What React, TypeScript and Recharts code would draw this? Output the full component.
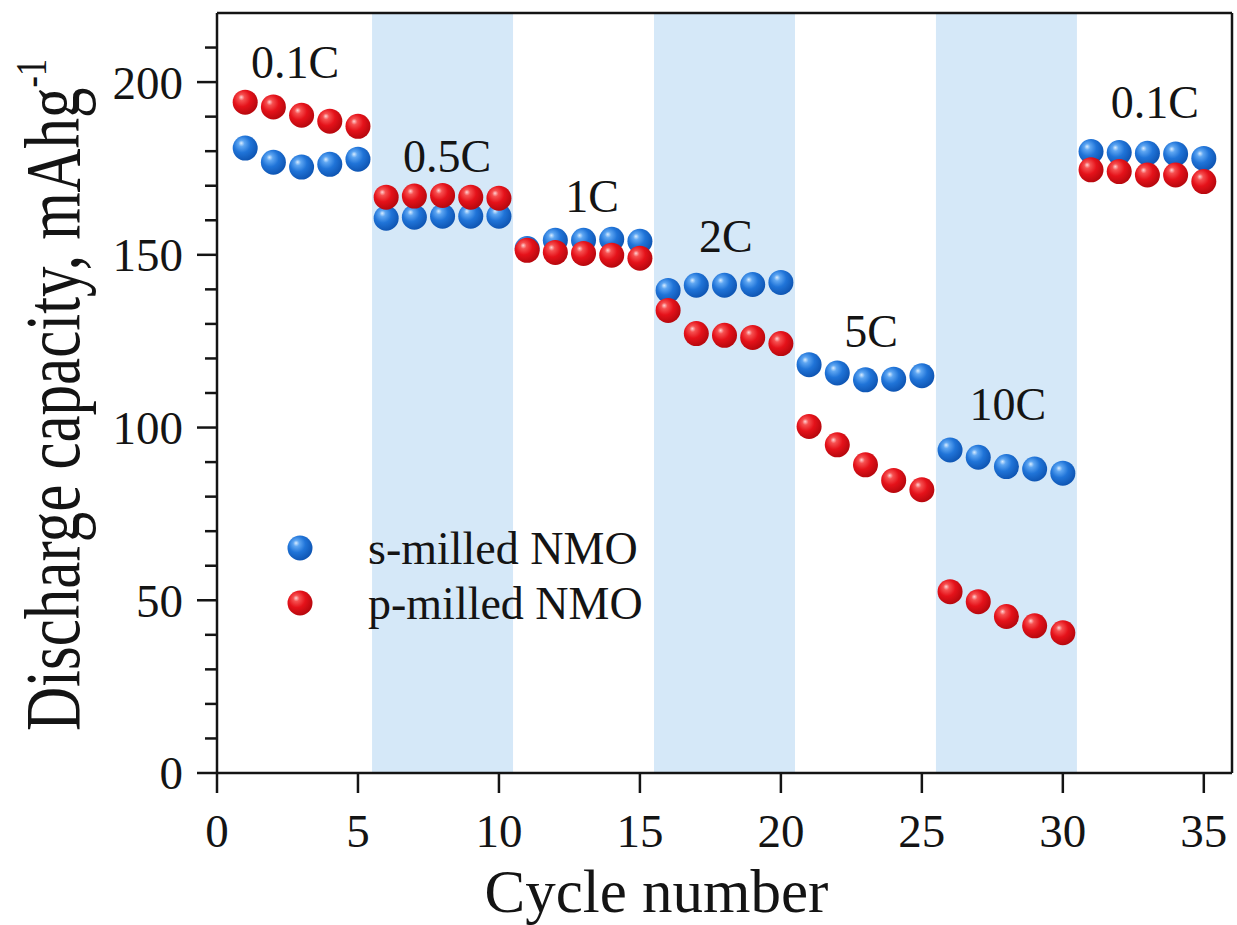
import React from 'react';
import {
  ScatterChart,
  Scatter,
  XAxis,
  YAxis,
  ReferenceArea,
  ReferenceLine,
  ReferenceDot,
  Legend,
} from 'recharts';

// Cycle index and discharge capacities (mAh/g)
const cycles = [
  1, 2, 3, 4, 5, 6, 7, 8, 9, 10, 11, 12, 13, 14, 15, 16, 17, 18, 19, 20,
  21, 22, 23, 24, 25, 26, 27, 28, 29, 30, 31, 32, 33, 34, 35,
];

const sMilled = [
  180.9, 176.8, 175.4, 176.2, 177.7,
  160.6, 160.9, 161.2, 161.2, 161.2,
  151.8, 154.2, 154.2, 154.5, 153.9,
  139.7, 141.2, 141.2, 141.4, 142.0,
  118.2, 115.8, 113.8, 114.0, 115.0,
  93.5, 91.4, 88.7, 88.0, 86.8,
  179.9, 179.6, 179.4, 179.2, 177.9,
];

const pMilled = [
  194.2, 192.8, 190.4, 188.7, 187.2,
  166.7, 167.0, 167.2, 166.7, 166.4,
  151.3, 150.7, 150.4, 149.9, 149.0,
  133.9, 127.2, 126.7, 126.1, 124.3,
  100.3, 95.0, 89.2, 84.7, 82.0,
  52.5, 49.6, 45.3, 42.6, 40.6,
  174.6, 174.1, 173.1, 173.1, 171.2,
];

const seriesNames = ['s-milled NMO', 'p-milled NMO'];

// C-rate steps: shaded cycle ranges and their labels
const shadedRanges: [number, number][] = [
  [5.5, 10.5],
  [15.5, 20.5],
  [25.5, 30.5],
];
const rateNames = ['0.1C', '0.5C', '1C', '2C', '5C', '10C', '0.1C'];
const rateAtCycle = [2.77, 8.16, 13.3, 18.05, 23.2, 28.05, 33.26];
const rateAtCapacity = [201.3, 174.0, 162.5, 150.9, 123.4, 102.2, 189.7];

const xTicks = [0, 5, 10, 15, 20, 25, 30, 35];
const yTicks = [0, 10, 20, 30, 40, 50, 60, 70, 80, 90, 100, 110, 120, 130, 140, 150, 160, 170, 180, 190, 200, 210];

const sData = cycles.map((c, i) => ({ cycle: c, capacity: sMilled[i] }));
const pData = cycles.map((c, i) => ({ cycle: c, capacity: pMilled[i] }));

const FONT = "'Liberation Serif', 'Times New Roman', serif";
const INK = '#141414';
const BAND = '#d5e8f8';

const Ball = (props: any) => {
  const { cx, cy, fill } = props;
  if (cx == null || cy == null) return null;
  return <circle cx={cx} cy={cy} r={12.5} fill={fill} />;
};

const YTick = (props: any) => {
  const { x, y, payload } = props;
  const v = payload.value as number;
  const major = v % 50 === 0;
  return (
    <g>
      <line x1={x} x2={x - (major ? 20 : 12)} y1={y} y2={y} stroke={INK} strokeWidth={2.5} />
      {major && (
        <text x={x - 34} y={y} dy="0.35em" textAnchor="end" fontFamily={FONT} fontSize={47} fill={INK}>
          {v}
        </text>
      )}
    </g>
  );
};

const XTick = (props: any) => {
  const { x, y, payload } = props;
  return (
    <g>
      <line x1={x} x2={x} y1={y} y2={y + 20} stroke={INK} strokeWidth={2.5} />
      <text x={x} y={y + 74} textAnchor="middle" fontFamily={FONT} fontSize={47} fill={INK}>
        {payload.value}
      </text>
    </g>
  );
};

const YTitle = (props: any) => {
  const vb = props.viewBox;
  const cx = vb.x + 79;
  const cy = vb.y + vb.height / 2 + 2;
  return (
    <text
      transform={`translate(${cx},${cy}) rotate(-90) scale(1,1.28)`}
      textAnchor="middle"
      fontFamily={FONT}
      fontSize={61}
      fill={INK}
    >
      <tspan>Discharge capacity, mAhg</tspan>
      <tspan dy="-0.75em" fontSize={34}>-1</tspan>
    </text>
  );
};

const renderLegend = (props: any) => {
  const items = [...(props.payload || [])].sort(
    (a: any, b: any) => seriesNames.indexOf(a.value) - seriesNames.indexOf(b.value),
  );
  return (
    <svg width={420} height={120}>
      {items.map((item: any, i: number) => (
        <g key={i}>
          <circle cx={20} cy={33 + i * 55} r={12.5} fill={item.color} />
          <text x={88} y={49 + i * 55} fontFamily={FONT} fontSize={46} fill={INK}>
            {item.value}
          </text>
        </g>
      ))}
    </svg>
  );
};

export default function App() {
  return (
    <div style={{ position: 'absolute', left: 0, top: 0, background: '#fff' }}>
      <svg width={0} height={0} style={{ position: 'absolute' }}>
        <defs>
          <radialGradient id="ballBlue" cx="0.4" cy="0.38" r="0.62" fx="0.34" fy="0.3">
            <stop offset="0" stopColor="#d8ecff" />
            <stop offset="0.2" stopColor="#5ea6f2" />
            <stop offset="0.55" stopColor="#2074d8" />
            <stop offset="1" stopColor="#0f56b4" />
          </radialGradient>
          <radialGradient id="ballRed" cx="0.4" cy="0.38" r="0.62" fx="0.34" fy="0.3">
            <stop offset="0" stopColor="#ffd2d2" />
            <stop offset="0.2" stopColor="#f65050" />
            <stop offset="0.55" stopColor="#e5121a" />
            <stop offset="1" stopColor="#b8080e" />
          </radialGradient>
        </defs>
      </svg>
      <ScatterChart width={1237} height={925} margin={{ top: 13, right: 5, bottom: 0, left: 0 }}>
        {shadedRanges.map(([a, b], i) => (
          <ReferenceArea key={i} x1={a} x2={b} y1={0} y2={220} fill={BAND} fillOpacity={1} stroke="none" />
        ))}
        <XAxis
          type="number"
          dataKey="cycle"
          domain={[0, 36]}
          ticks={xTicks}
          height={152}
          tickSize={0}
          tickMargin={0}
          tick={<XTick />}
          axisLine={{ stroke: INK, strokeWidth: 2.5 }}
          allowDataOverflow
          label={{
            value: 'Cycle number',
            position: 'insideBottom',
            offset: 13,
            dx: -68,
            fontFamily: FONT,
            fontSize: 61,
            fill: INK,
          }}
        />
        <YAxis
          type="number"
          dataKey="capacity"
          domain={[0, 220]}
          ticks={yTicks}
          width={217}
          tickSize={0}
          tickMargin={0}
          tick={<YTick />}
          interval={0}
          axisLine={{ stroke: INK, strokeWidth: 2.5 }}
          allowDataOverflow
          label={{ content: <YTitle /> }}
        />
        <ReferenceLine y={220} stroke={INK} strokeWidth={2.5} />
        <ReferenceLine x={36} stroke={INK} strokeWidth={2.5} />
        {rateNames.map((name, i) => (
          <ReferenceDot
            key={i}
            x={rateAtCycle[i]}
            y={rateAtCapacity[i]}
            r={0}
            shape={(p: any) => (
              <text x={p.cx} y={p.cy} textAnchor="middle" fontFamily={FONT} fontSize={46} fill={INK}>
                {name}
              </text>
            )}
          />
        ))}
        <Scatter
          name={seriesNames[0]}
          data={sData}
          fill="url(#ballBlue)"
          shape={<Ball />}
          isAnimationActive={false}
        />
        <Scatter
          name={seriesNames[1]}
          data={pData}
          fill="url(#ballRed)"
          shape={<Ball />}
          isAnimationActive={false}
        />
        <Legend
          layout="vertical"
          align="center"
          verticalAlign="middle"
          content={renderLegend}
          wrapperStyle={{ position: 'absolute', left: 280, top: 515, width: 420, height: 120 }}
        />
      </ScatterChart>
    </div>
  );
}
